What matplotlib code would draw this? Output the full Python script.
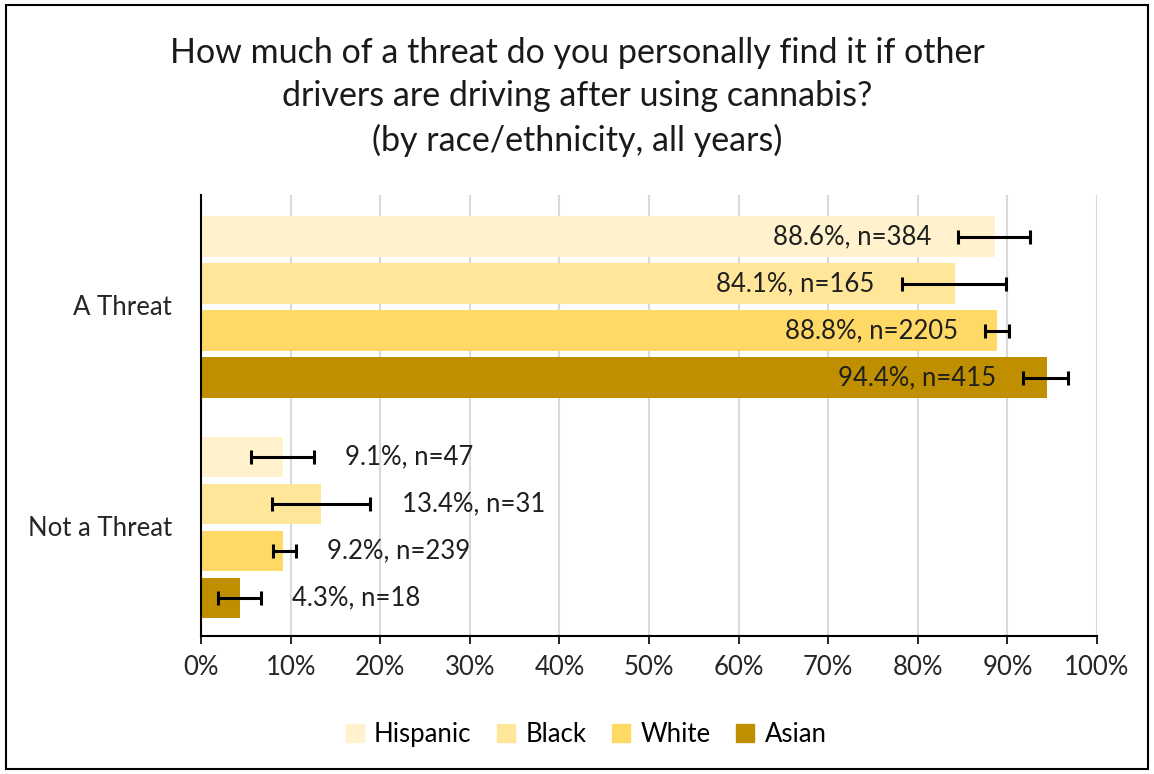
import matplotlib
matplotlib.use("Agg")
import matplotlib.pyplot as plt
import matplotlib.patches as mpatches
import numpy as np

# ── Dati ──────────────────────────────────────────────────────────────────────
categories = ["A Threat", "Not a Threat"]
groups     = ["Hispanic", "Black", "White", "Asian"]

pct_hispanic = [88.6, 9.1]
pct_black    = [84.1, 13.4]
pct_white    = [88.8, 9.2]
pct_asian    = [94.4, 4.3]

n_hispanic = [384, 47]
n_black    = [165, 31]
n_white    = [2205, 239]
n_asian    = [415, 18]

# intervalli di confidenza (low, high)
ci_hispanic = [(84.5, 92.5), (5.6, 12.6)]
ci_black    = [(78.2, 89.9), (7.9, 18.9)]
ci_white    = [(87.5, 90.2), (8.0, 10.6)]
ci_asian    = [(91.7, 96.8), (1.9, 6.7)]

COLORS = ["#FFF2CC", "#FFE699", "#FFD966", "#BF8F00"]
FONT = "Lato"
FS = 18.5
# ──────────────────────────────────────────────────────────────────────────────

pcts = [pct_hispanic, pct_black, pct_white, pct_asian]
ns   = [n_hispanic, n_black, n_white, n_asian]
cis  = [ci_hispanic, ci_black, ci_white, ci_asian]

plt.rcParams["font.family"] = [FONT, "DejaVu Sans"]

fig = plt.figure(figsize=(11.54, 7.74), dpi=100)
ax = fig.add_axes([0.1742, 0.1783, 0.7764, 0.5697])

step = 0.2133
height = 0.183
for g, (name, color) in enumerate(zip(groups, COLORS)):
    for c in range(len(categories)):
        y = c + (g - 1.5) * step + 0.008
        val = pcts[g][c]
        lo, hi = cis[g][c]
        ax.barh(y, val, height=height, color=color, zorder=2)
        ax.errorbar(val, y, xerr=[[val - lo], [hi - val]], fmt="none",
                    ecolor="black", elinewidth=2.2, capsize=5, capthick=2.2, zorder=3)
        txt = f"{val:.1f}%, n={ns[g][c]}"
        if val > 50:
            ax.text(lo - 3.0, y, txt, ha="right", va="center", fontsize=FS,
                    color="#1f1f1f", zorder=4)
        else:
            ax.text(hi + 3.5, y, txt, ha="left", va="center", fontsize=FS,
                    color="#1f1f1f", zorder=4)

ax.set_xlim(0, 100)
ax.set_ylim(1.5, -0.5)
ax.set_xticks(np.arange(0, 101, 10))
ax.set_xticklabels([f"{v}%" for v in range(0, 101, 10)], fontsize=FS, color="#262626")
ax.set_yticks(range(len(categories)))
ax.set_yticklabels(categories, fontsize=FS, color="#262626")
ax.tick_params(axis="y", length=0, pad=21)
ax.tick_params(axis="x", direction="out", length=6, width=1.2, pad=8, color="black")
ax.grid(axis="x", color="#D9D9D9", linewidth=1.5, zorder=0)
ax.set_axisbelow(True)
for s in ["top", "right"]:
    ax.spines[s].set_visible(False)
ax.spines["left"].set_linewidth(1.5)
ax.spines["bottom"].set_linewidth(1.5)

fig.text(0.5, 0.952, "How much of a threat do you personally find it if other\n"
         "drivers are driving after using cannabis?\n(by race/ethnicity, all years)",
         ha="center", va="top", fontsize=24.5, color="#1a1a1a", linespacing=1.42)

handles = [mpatches.Patch(color=c, label=g) for g, c in zip(groups, COLORS)]
fig.legend(handles=handles, loc="center", bbox_to_anchor=(0.508, 0.051), ncol=4,
           frameon=False, fontsize=FS, handlelength=0.7, handleheight=0.7,
           handletextpad=0.4, columnspacing=1.0)

fig.patches.append(mpatches.Rectangle((0.005, 0.006), 0.99, 0.988, transform=fig.transFigure,
                                      fill=False, edgecolor="black", linewidth=1.5))

plt.savefig("out.png", dpi=100)
plt.close()
